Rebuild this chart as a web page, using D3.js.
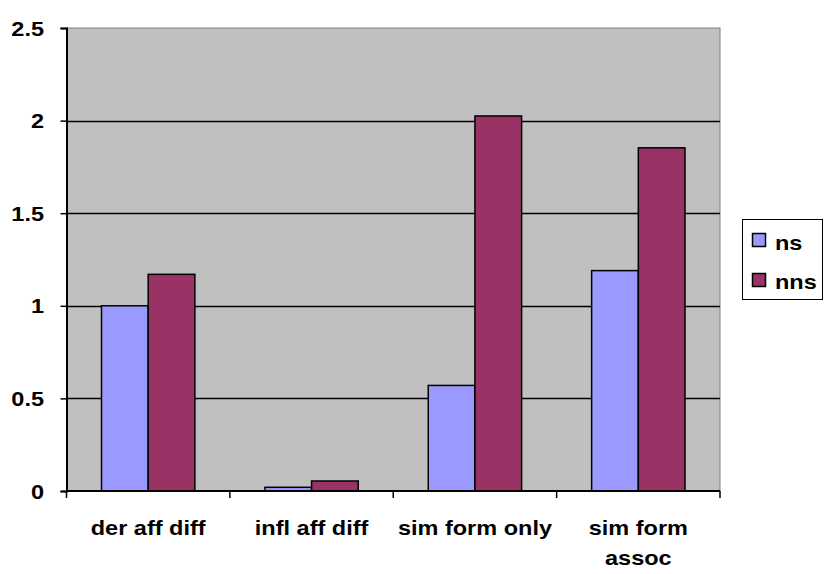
<!DOCTYPE html>
<html><head><meta charset="utf-8">
<script src="https://cdn.jsdelivr.net/npm/d3@7"></script>
<style>body{margin:0;background:#fff}text{font-family:"Liberation Sans",Arial,sans-serif;font-weight:bold;fill:#000}</style>
</head><body>
<svg id="c" width="827" height="574"></svg>
<script>
const categories = [["der aff diff"], ["infl aff diff"], ["sim form only"], ["sim form", "assoc"]];
const seriesNames = ["ns", "nns"];
const nsValues = [1.0, 0.02, 0.57, 1.19];
const nnsValues = [1.17, 0.054, 2.025, 1.853];
const yTicks = [0, 0.5, 1, 1.5, 2, 2.5];
const colors = ["#9999FF", "#993366"];

const svg = d3.select("#c");
const L = 66.5, R = 720, T = 28, B = 491;
const x = d3.scaleBand().domain(d3.range(categories.length)).range([L, R]).paddingInner(0).paddingOuter(0);
const y = d3.scaleLinear().domain([0, 2.5]).range([B, T]);
const fs = 21, sx = 1.12;

svg.append("rect").attr("x", L).attr("y", T).attr("width", R - L).attr("height", B - T)
  .attr("fill", "#C0C0C0").attr("stroke", "#808080").attr("stroke-width", 1);

// gridlines
svg.append("g").selectAll("line").data(yTicks.filter(d => d > 0 && d < 2.5)).join("line")
  .attr("x1", L).attr("x2", R).attr("y1", d => Math.round(y(d)) + 0.5).attr("y2", d => Math.round(y(d)) + 0.5)
  .attr("stroke", "#000").attr("stroke-width", 1.5);

// bars
const data = [nsValues, nnsValues];
const inner = d3.scaleBand().domain([0, 1]).range([0, x.bandwidth()]).paddingOuter(0.75).paddingInner(0);
data.forEach((vals, si) => {
  svg.append("g").selectAll("rect").data(vals).join("rect")
    .attr("x", (d, i) => x(i) + inner(si))
    .attr("y", d => y(d))
    .attr("width", inner.bandwidth())
    .attr("height", d => B - y(d))
    .attr("fill", colors[si]).attr("stroke", "#000").attr("stroke-width", 1.5);
});

function label(g, tx, ty, str, anchor, baseline) {
  const t = g.append("text").attr("transform", `translate(${tx},${ty}) scale(${sx},1)`)
    .attr("text-anchor", anchor).attr("font-size", fs).text(str);
  if (baseline) t.attr("dominant-baseline", baseline);
  return t;
}

// y axis
const yAxis = d3.axisLeft(y).tickValues(yTicks).tickSize(6).tickFormat("");
const gy = svg.append("g").attr("transform", `translate(${L},0)`).call(yAxis);
gy.select(".domain").attr("stroke", "#000").attr("stroke-width", 2);
gy.selectAll(".tick line").attr("stroke", "#000").attr("stroke-width", 1.5);
const fmt = d3.format("~g");
yTicks.forEach(v => label(svg, 44, y(v) + 7.5, fmt(v), "end"));

// x axis
const xTickScale = d3.scaleLinear().domain([0, categories.length]).range([L, R]);
const gx = svg.append("g");
gx.append("line").attr("x1", L).attr("x2", R).attr("y1", B).attr("y2", B).attr("stroke", "#000").attr("stroke-width", 2);
gx.selectAll("line.t").data(d3.range(categories.length + 1)).join("line").attr("class", "t")
  .attr("x1", d => xTickScale(d)).attr("x2", d => xTickScale(d)).attr("y1", B).attr("y2", B + 7)
  .attr("stroke", "#000").attr("stroke-width", 1.5);
categories.forEach((lines, i) => {
  lines.forEach((ln, j) => label(gx, x(i) + x.bandwidth() / 2, 535 + j * 30, ln, "middle"));
});

// legend
const lg = svg.append("g");
lg.append("rect").attr("x", 742.5).attr("y", 219.5).attr("width", 80).attr("height", 80).attr("fill", "#fff").attr("stroke", "#000").attr("stroke-width", 1);
seriesNames.forEach((s, i) => {
  lg.append("rect").attr("x", 752.5).attr("y", 233.5 + i * 40).attr("width", 13).attr("height", 13)
    .attr("fill", colors[i]).attr("stroke", "#000").attr("stroke-width", 1.5);
  label(lg, 775, 250 + i * 39, s, "start");
});
</script>
</body></html>
